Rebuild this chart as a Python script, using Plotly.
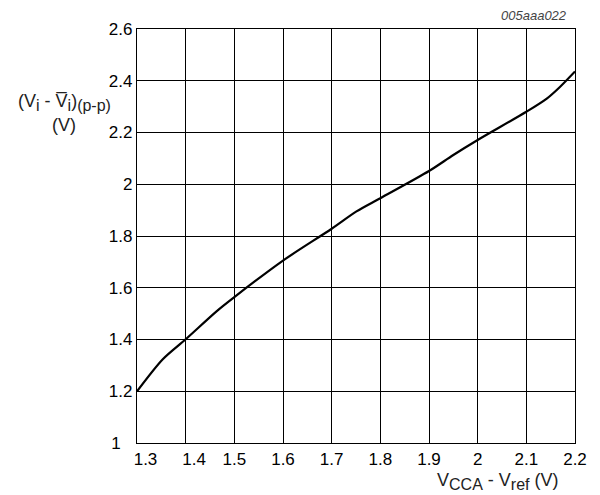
import plotly.graph_objects as go

vcca_minus_vref = [1.30, 1.353, 1.40, 1.464, 1.50, 1.60, 1.70, 1.751, 1.80, 1.90, 1.95, 2.00, 2.10, 2.142, 2.169, 2.20]
vi_pp = [1.200, 1.324, 1.401, 1.510, 1.564, 1.705, 1.828, 1.895, 1.946, 2.051, 2.113, 2.171, 2.280, 2.331, 2.376, 2.436]

x_ticks = [1.3, 1.4, 1.5, 1.6, 1.7, 1.8, 1.9, 2.0, 2.1, 2.2]
x_labels = ["\u20031.3", "\u20031.4", "1.5", "1.6", "1.7", "1.8", "1.9", "2", "2.1", "2.2"]
y_ticks = [1.0, 1.2, 1.4, 1.6, 1.8, 2.0, 2.2, 2.4, 2.6]
y_labels = ["1\u2002\u2009", "1.2", "1.4", "1.6", "1.8", "2", "2.2", "2.4", "2.6"]

FONT = "Liberation Sans, Arial, sans-serif"
TXT = "#222222"

W, H = 592, 487
ML, MR, MT, MB = 129, 25, 19, 52
PW, PH = W - ML - MR, H - MT - MB


def px_x(x):
    return (x - ML) / PW


def px_y(y):
    return 1 - (y - MT) / PH


def sub(t):
    return '<sub><span style="font-size:16px">' + t + '</span></sub>'


fig = go.Figure()
fig.add_trace(go.Scatter(x=vcca_minus_vref, y=vi_pp, mode="lines",
                         line=dict(color="black", width=2.2, shape="spline", smoothing=0.8),
                         showlegend=False, hoverinfo="skip"))

fig.update_layout(
    width=W, height=H,
    margin=dict(l=ML, r=MR, t=MT, b=MB),
    paper_bgcolor="white", plot_bgcolor="white",
    font=dict(family=FONT, size=17, color="black"),
    xaxis=dict(range=[1.3, 2.2], tickvals=x_ticks, ticktext=x_labels,
               showgrid=True, gridcolor="black", gridwidth=1,
               showline=True, linecolor="black", linewidth=1.2, mirror=True,
               ticks="", zeroline=False, tickfont=dict(size=17, color="black")),
    yaxis=dict(range=[1.0, 2.6], tickvals=y_ticks, ticktext=y_labels,
               showgrid=True, gridcolor="black", gridwidth=1,
               showline=True, linecolor="black", linewidth=1.2, mirror=True,
               ticks="", zeroline=False, tickfont=dict(size=17, color="black")),
    annotations=[
        dict(text="<i>005aaa022</i>", xref="paper", yref="paper", x=1.0, y=1.0,
             xanchor="right", yanchor="middle", xshift=-6, yshift=14, showarrow=False,
             font=dict(size=13, color="#444444", family=FONT)),
        dict(text="V" + sub("CCA") + " - V" + sub("ref") + " (V)", xref="paper", yref="paper",
             x=px_x(489), y=px_y(474), xanchor="center", yanchor="middle", showarrow=False,
             font=dict(size=18, color=TXT, family=FONT)),
        dict(text="(V" + sub("i") + " - V\u0305" + sub("i") + ")" + sub("(p-p)"),
             xref="paper", yref="paper", x=px_x(56), y=px_y(93),
             xanchor="center", yanchor="middle", showarrow=False,
             font=dict(size=18, color=TXT, family=FONT)),
        dict(text="(V)", xref="paper", yref="paper", x=px_x(56), y=px_y(115),
             xanchor="center", yanchor="middle", showarrow=False,
             font=dict(size=18, color=TXT, family=FONT)),
    ],
)

fig.write_html("out.html")
